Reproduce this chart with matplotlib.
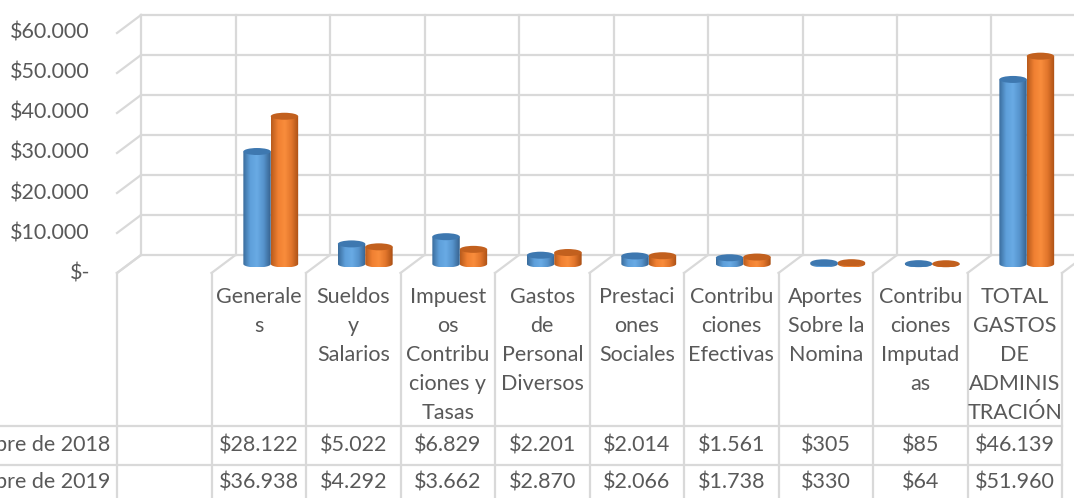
import matplotlib
matplotlib.use("Agg")
import matplotlib.pyplot as plt
import numpy as np
from matplotlib.patches import Ellipse, Polygon
from matplotlib.colors import LinearSegmentedColormap

# datos
categorias = ["", "Generale\ns", "Sueldos\ny\nSalarios",
              "Impuest\nos\nContribu\nciones y\nTasas",
              "Gastos\nde\nPersonal\nDiversos", "Prestaci\nones\nSociales",
              "Contribu\nciones\nEfectivas", "Aportes\nSobre la\nNomina",
              "Contribu\nciones\nImputad\nas",
              "TOTAL\nGASTOS\nDE\nADMINIS\nTRACIÓN"]
valores_2018 = [None, 28122, 5022, 6829, 2201, 2014, 1561, 305, 85, 46139]
valores_2019 = [None, 36938, 4292, 3662, 2870, 2066, 1738, 330, 64, 51960]
series = ["Diciembre de 2018", "Diciembre de 2019"]
ticks = [0, 10000, 20000, 30000, 40000, 50000, 60000]
tick_labels = ["$-", "$10.000", "$20.000", "$30.000", "$40.000", "$50.000", "$60.000"]

plt.rcParams['font.family'] = ['Lato', 'DejaVu Sans']
GRIS_TXT = "#595959"
GRIS_LIN = "#D9D9D9"
FS = 15.5

# escala: 94.5 px por categoria, 250 unidades por px
def px_x(p):
    return (p - 117) / 94.5

def px_y(p):
    return (273 - p) * 250

DX = 24 / 94.5
DY = 18 * 250
n = len(categorias)

fig = plt.figure(figsize=(10.74, 4.98), dpi=100)
ax = fig.add_axes([0, 0, 1, 1])
ax.axis("off")

# paredes
for v in ticks:
    ax.plot([DX, px_x(1080)], [v + DY, v + DY], color=GRIS_LIN, lw=1.6, zorder=1)
    ax.plot([0, DX], [v, v + DY], color=GRIS_LIN, lw=1.6, zorder=1)
for k in range(n + 1):
    ax.plot([k + DX, k + DX], [DY, ticks[-1] + DY], color=GRIS_LIN, lw=1.6, zorder=1)
    ax.plot([k, k + DX], [0, DY], color=GRIS_LIN, lw=1.6, zorder=1)

# etiquetas del eje
for v, lab in zip(ticks, tick_labels):
    ax.text(px_x(90), v, lab, ha="right", va="center", fontsize=FS, color=GRIS_TXT)

# cilindros
cmap_azul = LinearSegmentedColormap.from_list(
    "azul", ["#3A6C9C", "#5E9FDA", "#69ABE5", "#5592CB", "#36628E"])
cmap_naranja = LinearSegmentedColormap.from_list(
    "naranja", ["#B85B1C", "#F08032", "#F98D3C", "#E0742B", "#A94F14"])
tapa = {"azul": "#3E78B0", "naranja": "#C2601E"}
w = 0.29
eh = 7 * 250
base = DY / 2
grad = np.linspace(0, 1, 64).reshape(1, -1)

def cilindro(xc, v, cmap, color_tapa, z):
    x0, x1 = xc - w / 2, xc + w / 2
    t = np.linspace(np.pi, 2 * np.pi, 40)
    pts = [(xc + w / 2 * np.cos(a), base + eh / 2 * np.sin(a)) for a in t]
    pts += [(x1, base + v), (x0, base + v)]
    clip = Polygon(pts, closed=True, facecolor="none", edgecolor="none")
    ax.add_patch(clip)
    im = ax.imshow(grad, cmap=cmap, extent=[x0, x1, base - eh / 2, base + v],
                   aspect="auto", interpolation="bilinear", zorder=z)
    im.set_clip_path(clip)
    ax.add_patch(Ellipse((xc, base + v), w, eh, facecolor=color_tapa,
                         edgecolor="none", zorder=z + 0.1))

for i in range(n):
    if valores_2018[i] is None:
        continue
    c = i + 0.5 + DX / 2
    cilindro(c - w / 2, valores_2018[i], cmap_azul, tapa["azul"], 3)
    cilindro(c + w / 2, valores_2019[i], cmap_naranja, tapa["naranja"], 4)

# tabla de datos
y_top, y_h, y_r1, y_r2 = px_y(273), px_y(426), px_y(465), px_y(520)
for k in range(n + 1):
    ax.plot([k, k], [y_top, y_r2], color=GRIS_LIN, lw=1.6, zorder=1)
for yy in (y_h, y_r1):
    ax.plot([px_x(-10), n], [yy, yy], color=GRIS_LIN, lw=1.6, zorder=1)

for i, cat in enumerate(categorias):
    for j, linea in enumerate(cat.split("\n")):
        if linea:
            ax.text(i + 0.5, px_y(297 + 29 * j), linea, ha="center", va="center",
                    fontsize=FS, color=GRIS_TXT)

def fmt(v):
    return "$" + f"{v:,}".replace(",", ".")

for fila, (nombre, vals) in enumerate(zip(series, [valores_2018, valores_2019])):
    yy = px_y(445 + 37 * fila)
    ax.text(px_x(110), yy, nombre, ha="right", va="center", fontsize=FS, color=GRIS_TXT)
    for i, v in enumerate(vals):
        if v is not None:
            ax.text(i + 0.5, yy, fmt(v), ha="center", va="center",
                    fontsize=FS, color=GRIS_TXT)

ax.set_xlim(px_x(0), px_x(1074))
ax.set_ylim(px_y(498), px_y(0))
fig.savefig("out.png", dpi=100)
